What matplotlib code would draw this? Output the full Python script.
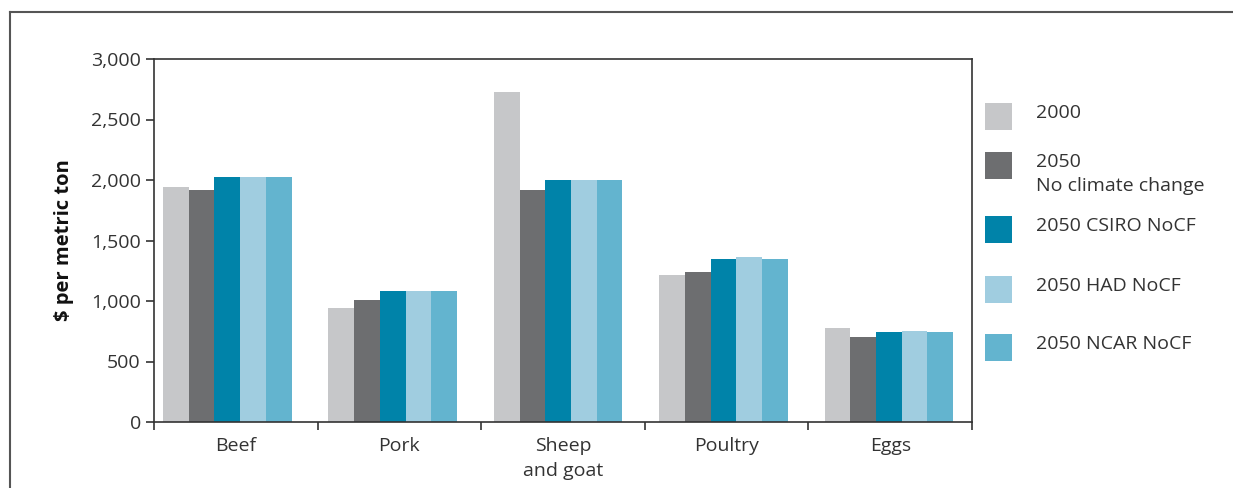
import matplotlib.pyplot as plt
import matplotlib.patches as patches
import numpy as np

plt.rcParams['font.family'] = ['Open Sans', 'DejaVu Sans']

# Data
categories = ['Beef', 'Pork', 'Sheep\nand goat', 'Poultry', 'Eggs']
seriesNames = ['2000', '2050\nNo climate change', '2050 CSIRO NoCF', '2050 HAD NoCF', '2050 NCAR NoCF']
seriesColors = ['#C6C7C9', '#6D6E70', '#0083A9', '#A0CDE0', '#63B4CF']
values2000 = [1940, 940, 2725, 1215, 775]
values2050 = [1915, 1005, 1915, 1240, 700]
valuesCsiro = [2025, 1080, 2000, 1345, 745]
valuesHad = [2025, 1080, 2000, 1360, 750]
valuesNcar = [2025, 1080, 2000, 1345, 745]
yTicks = [0, 500, 1000, 1500, 2000, 2500, 3000]

allSeries = [values2000, values2050, valuesCsiro, valuesHad, valuesNcar]
textColor = '#333333'
fontSize = 14

fig = plt.figure(figsize=(12.33, 4.88), dpi=100)
ax = fig.add_axes([154 / 1233, 1 - 422 / 488, (972 - 154) / 1233, (422 - 59) / 488])

# Outer frame (top and left edges visible)
fig.add_artist(plt.Line2D([10 / 1233, 10 / 1233], [0, 1 - 12 / 488], color='#555555', lw=1.5, transform=fig.transFigure))
fig.add_artist(plt.Line2D([10 / 1233, 1], [1 - 12 / 488, 1 - 12 / 488], color='#555555', lw=1.5, transform=fig.transFigure))

x = np.arange(len(categories))
barWidth = 0.157
# groups sit slightly left of the category centres in the original, drifting right
groupCenters = x * 1.011 - 0.052
for i, vals in enumerate(allSeries):
    ax.bar(groupCenters + (i - 2) * barWidth, vals, width=barWidth, color=seriesColors[i], linewidth=0)

ax.set_xlim(-0.5, len(categories) - 0.5)
ax.set_ylim(0, 3000)
ax.set_yticks(yTicks)
ax.set_yticklabels([f'{v:,}' for v in yTicks], fontsize=fontSize, color=textColor)
ax.set_xticks(np.arange(len(categories) + 1) - 0.5)
ax.set_xticklabels([])
ax.tick_params(axis='both', direction='out', length=6, width=1.2, color='#333333')
for j, name in enumerate(categories):
    ax.text(j, -120, name, ha='center', va='top', fontsize=fontSize, color=textColor, linespacing=1.5)

for spine in ax.spines.values():
    spine.set_color('#333333')
    spine.set_linewidth(1.2)

ax.set_ylabel('$ per metric ton', fontsize=14.5, fontweight='bold', color='#111111', labelpad=12)

# Legend drawn by hand to keep the uneven spacing
legendTops = [103, 152, 216, 276, 334]
for i, name in enumerate(seriesNames):
    top = legendTops[i]
    fig.patches.append(patches.Rectangle((985 / 1233, 1 - (top + 27) / 488), 27 / 1233, 27 / 488,
                                         transform=fig.transFigure, color=seriesColors[i], linewidth=0))
    fig.text(1036 / 1233, 1 - (top + 1) / 488, name, ha='left', va='top', fontsize=fontSize,
             color=textColor, linespacing=1.4)

fig.savefig('out.png', dpi=100)
